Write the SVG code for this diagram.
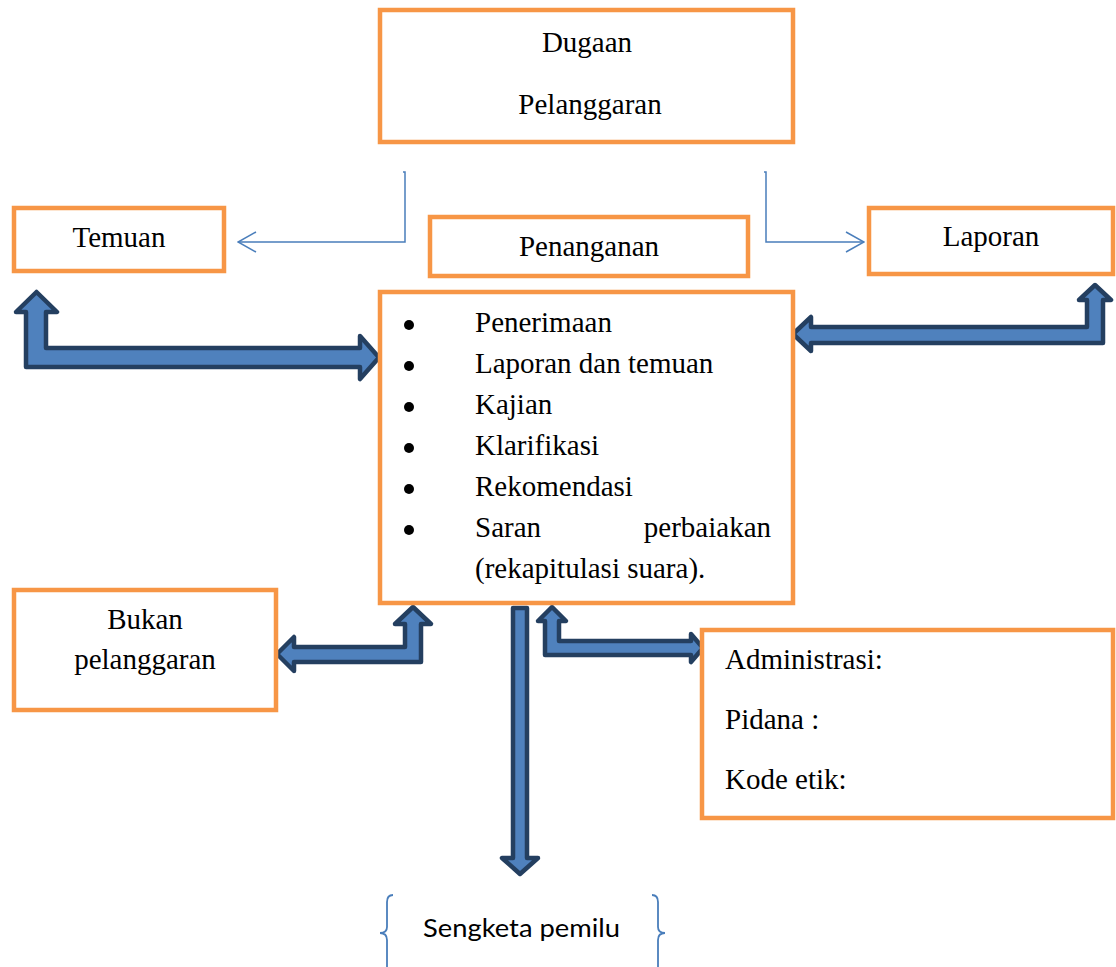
<svg xmlns="http://www.w3.org/2000/svg" width="1116" height="967" viewBox="0 0 1116 967">
<defs>
<style>
.box{fill:#FFFFFF;stroke:#F79646;stroke-width:4.5}
.t{font-size:29px;fill:#000}
.c{text-anchor:middle}
.thin{fill:none;stroke:#4A7EBB;stroke-width:1.5}
.blk{fill:#4F81BD;stroke:#243F60;stroke-width:4.5;stroke-linejoin:round}
.brace{fill:none;stroke:#4A7EBB;stroke-width:1.8}
</style>
<marker id="open" viewBox="0 0 20 22" refX="19" refY="11" markerWidth="20" markerHeight="22" markerUnits="userSpaceOnUse" orient="auto">
<path d="M1,1 L19,11 L1,21" fill="none" stroke="#4A7EBB" stroke-width="1.5"/>
</marker>
</defs>
<rect width="1116" height="967" fill="#FFFFFF"/>

<g id="connectors">
<path class="thin" d="M403,172 L405,172 L405,242 L238,242" marker-end="url(#open)"/>
<path class="thin" d="M764,172 L766,172 L766,242 L864,242" marker-end="url(#open)"/>
<path class="blk" d="M36.5,292 L57,312 L46,312 L46,348 L360,348 L360,336 L379,357.5 L360,379 L360,367 L26,367 L26,312 L16,312 Z"/>
<path class="blk" d="M1095,285 L1111,300 L1103,300 L1103,343 L811,343 L811,351 L793,334 L811,317 L811,327 L1087,327 L1087,300 L1079,300 Z"/>
<path class="blk" d="M277,654 L294,637 L294,647 L405,647 L405,624 L395,624 L413,607 L431,624 L421,624 L421,662 L294,662 L294,671 Z"/>
<path class="blk" d="M552,607 L566,621 L559,621 L559,641 L691,641 L691,634 L703,648 L691,662 L691,655 L545,655 L545,621 L538,621 Z"/>
<path class="blk" d="M513,608 L527,608 L527,858 L538,858 L520,874 L502,858 L513,858 Z"/>
</g>

<g font-family="'Liberation Serif','Times New Roman',serif">
<g id="dugaan">
<rect class="box" x="380" y="10" width="413" height="132"/>
<text class="t c" x="587" y="52">Dugaan</text>
<text class="t c" x="590" y="114">Pelanggaran</text>
</g>

<g id="temuan">
<rect class="box" x="14" y="208" width="210" height="63"/>
<text class="t c" x="119" y="247">Temuan</text>
</g>

<g id="penanganan">
<rect class="box" x="430" y="217" width="318" height="59"/>
<text class="t c" x="589" y="256">Penanganan</text>
</g>

<g id="laporan">
<rect class="box" x="869" y="208" width="244" height="66"/>
<text class="t c" x="991" y="246">Laporan</text>
</g>

<g id="daftar">
<rect class="box" x="380" y="292" width="413" height="311"/>
<circle cx="409" cy="325" r="5"/>
<circle cx="409" cy="366" r="5"/>
<circle cx="409" cy="407" r="5"/>
<circle cx="409" cy="448" r="5"/>
<circle cx="409" cy="489" r="5"/>
<circle cx="409" cy="530" r="5"/>
<text class="t" x="475" y="332">Penerimaan</text>
<text class="t" x="475" y="373">Laporan dan temuan</text>
<text class="t" x="475" y="414">Kajian</text>
<text class="t" x="475" y="455">Klarifikasi</text>
<text class="t" x="475" y="496">Rekomendasi</text>
<text class="t" x="475" y="537">Saran</text>
<text class="t" x="771" y="537" text-anchor="end">perbaiakan</text>
<text class="t" x="475" y="578">(rekapitulasi suara).</text>
</g>

<g id="bukan">
<rect class="box" x="14" y="590" width="262" height="120"/>
<text class="t c" x="145" y="629">Bukan</text>
<text class="t c" x="145" y="669">pelanggaran</text>
</g>

<g id="jenis">
<rect class="box" x="702" y="630" width="411" height="188"/>
<text class="t" x="725" y="669">Administrasi:</text>
<text class="t" x="725" y="729">Pidana :</text>
<text class="t" x="725" y="789">Kode etik:</text>
</g>
</g>

<g id="sengketa">
<path class="brace" d="M393,895 Q387,895 387,902 L387,927 Q387,933 380,933 Q387,933 387,940 L387,970"/>
<path class="brace" d="M652,895 Q658,895 658,902 L658,927 Q658,933 665,933 Q658,933 658,940 L658,970"/>
<text x="423" y="937" font-family="Lato,'Open Sans',sans-serif" font-size="25" textLength="197" lengthAdjust="spacingAndGlyphs" fill="#000">Sengketa pemilu</text>
</g>
</svg>
